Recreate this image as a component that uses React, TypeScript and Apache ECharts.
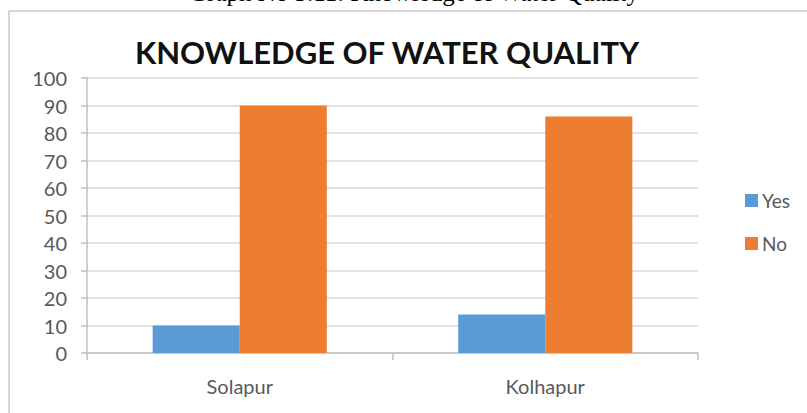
import React, { useEffect, useRef } from "react";
import * as echarts from "echarts";

const categories = ["Solapur", "Kolhapur"];
const yesValues = [10, 14];
const noValues = [90, 86];
const seriesNames = ["Yes", "No"];
const chartTitle = "KNOWLEDGE OF WATER QUALITY";
const caption = "Graph No 3.11: Knowledge of Water Quality";

export default function App() {
  const ref = useRef<HTMLDivElement>(null);
  useEffect(() => {
    if (!ref.current) return;
    const chart = echarts.init(ref.current, null, { renderer: "svg" });
    const font = "Lato";
    chart.setOption({
      animation: false,
      backgroundColor: "#ffffff",
      graphic: [
        {
          type: "rect",
          z: 0,
          shape: { x: 9, y: 11, width: 900, height: 500 },
          style: { fill: "none", stroke: "#cccccc", lineWidth: 1.5 },
        },
        {
          type: "text",
          x: 414,
          y: 5,
          style: {
            text: caption,
            font: "25px 'Liberation Serif'",
            fill: "#000000",
            align: "center",
            verticalAlign: "bottom",
          },
        },
        {
          type: "text",
          x: 387,
          y: 52,
          style: {
            text: chartTitle,
            font: "bold 31px Lato",
            fill: "#111111",
            align: "center",
            verticalAlign: "middle",
          },
        },
      ],
      legend: {
        orient: "vertical",
        left: 740,
        top: 186,
        itemWidth: 13,
        itemHeight: 13,
        itemGap: 24,
        icon: "rect",
        textStyle: { fontFamily: font, fontSize: 19, color: "#595959", padding: [0, 0, 0, -1] },
        data: seriesNames,
      },
      grid: { left: 87, right: 109, top: 78, bottom: 60 },
      xAxis: {
        type: "category",
        data: categories,
        axisLine: { lineStyle: { color: "#bfbfbf", width: 1.5 } },
        axisTick: { show: true, length: 7, lineStyle: { color: "#bfbfbf", width: 1.5 } },
        axisLabel: { fontFamily: font, fontSize: 20, color: "#595959", margin: 23 },
      },
      yAxis: {
        type: "value",
        min: 0,
        max: 100,
        interval: 10,
        axisLine: { show: true, lineStyle: { color: "#bfbfbf", width: 1.5 } },
        axisTick: { show: true, length: 6, lineStyle: { color: "#bfbfbf", width: 1.5 } },
        splitLine: { lineStyle: { color: "#d9d9d9", width: 1.5 } },
        axisLabel: { fontFamily: font, fontSize: 20, color: "#595959", margin: 20 },
      },
      series: [
        {
          name: seriesNames[0],
          type: "bar",
          data: yesValues,
          itemStyle: { color: "#5b9bd5" },
          barGap: "0%",
          barCategoryGap: "43%",
        },
        {
          name: seriesNames[1],
          type: "bar",
          data: noValues,
          itemStyle: { color: "#ed7d31" },
          barGap: "0%",
          barCategoryGap: "43%",
        },
      ],
    });
    return () => chart.dispose();
  }, []);
  return (
    <div
      ref={ref}
      style={{ position: "fixed", left: 0, top: 0, width: 807, height: 413 }}
    />
  );
}
